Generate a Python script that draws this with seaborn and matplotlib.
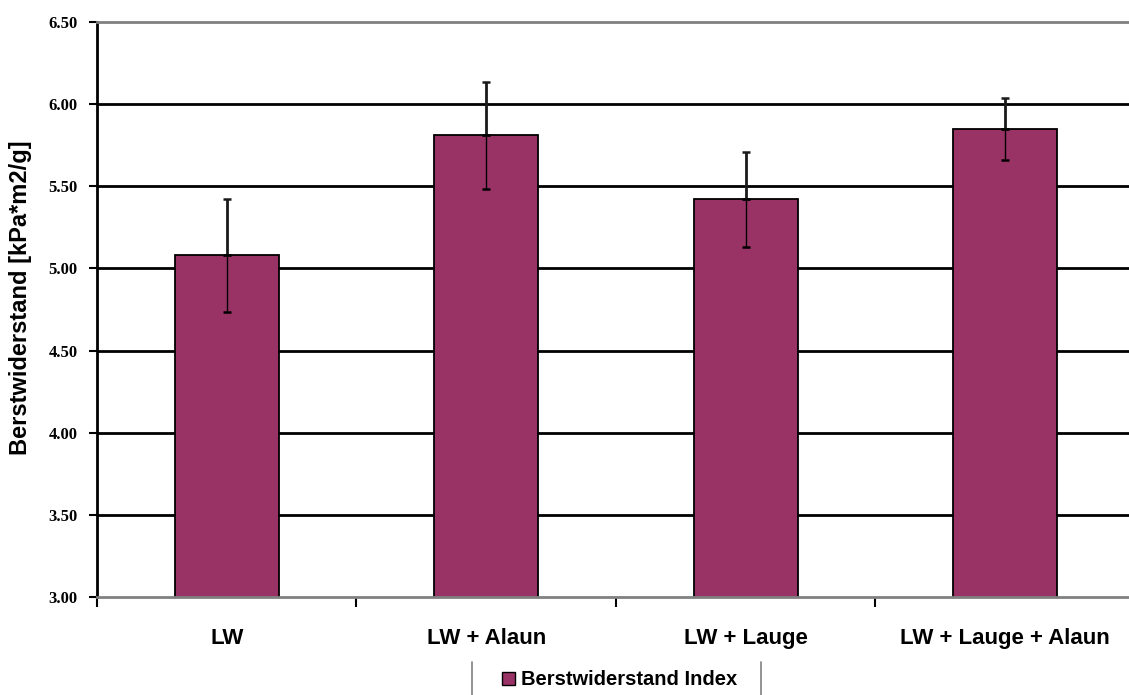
import matplotlib
matplotlib.use("Agg")
import matplotlib.pyplot as plt
from matplotlib.lines import Line2D
import seaborn as sns
import pandas as pd

# Burst index per treatment, with standard deviations
categories = ["LW", "LW + Alaun", "LW + Lauge", "LW + Lauge + Alaun"]
burst_index = [5.08, 5.81, 5.42, 5.85]
burst_sd = [0.345, 0.325, 0.29, 0.19]
y_ticks = [3.00, 3.50, 4.00, 4.50, 5.00, 5.50, 6.00, 6.50]

series_label = "Berstwiderstand Index"
y_label = "Berstwiderstand [kPa*m2/g]"
bar_color = "#993366"

df = pd.DataFrame({"Behandlung": categories, "Wert": burst_index})

sns.set_theme(style="white")
plt.rcParams["font.family"] = ["Liberation Sans", "DejaVu Sans"]
plt.rcParams["text.color"] = "black"
plt.rcParams["axes.labelcolor"] = "black"
plt.rcParams["xtick.color"] = "black"
plt.rcParams["ytick.color"] = "black"

fig = plt.figure(figsize=(11.29, 6.95), dpi=100)
ax = fig.add_axes([0.0859, 0.141, 0.9194, 0.8273])

ax.set_axisbelow(True)
for t in y_ticks[1:-1]:
    ax.axhline(t, color="black", lw=2.0, zorder=0)

sns.barplot(data=df, x="Behandlung", y="Wert", color=bar_color, saturation=1,
            width=0.4, edgecolor="black", linewidth=1.3, errorbar=None,
            label=series_label, ax=ax, zorder=2)

xs = list(range(len(categories)))
# upper and lower halves of the error bars are drawn separately
ax.errorbar(xs, burst_index, yerr=[[0] * len(xs), burst_sd], fmt="none",
            ecolor="#1a1a1a", elinewidth=2.0, capsize=3, capthick=1.8, zorder=3)
ax.errorbar(xs, burst_index, yerr=[burst_sd, [0] * len(xs)], fmt="none",
            ecolor="black", elinewidth=1.0, capsize=3, capthick=1.8, zorder=3)

ax.set_ylim(3.0, 6.5)
ax.set_xlim(-0.5, len(categories) - 0.5)
ax.set_yticks(y_ticks)
ax.set_yticklabels([f"{v:.2f}" for v in y_ticks], family="Liberation Serif",
                   fontweight="bold", fontsize=12)
ax.tick_params(axis="y", direction="out", length=6, width=1.5, color="black",
               pad=8, left=True)

# category boundaries as x tick marks, labels at the centres
ax.set_xticks([i + 0.5 for i in range(len(categories) - 1)] + [-0.5], minor=False)
ax.set_xticklabels([""] * len(categories))
ax.tick_params(axis="x", direction="out", length=7, width=1.5, color="black",
               bottom=True)
ax.set_xticks(xs, minor=True)
ax.set_xticklabels(categories, minor=True, fontweight="bold", fontsize=16)
ax.tick_params(axis="x", which="minor", length=0, pad=22)

ax.set_xlabel("")
ax.set_ylabel(y_label, fontweight="bold", fontsize=17)
ax.yaxis.set_label_coords(-0.0626, 0.521)

for side in ["top", "bottom", "right"]:
    ax.spines[side].set_color("#808080")
    ax.spines[side].set_linewidth(2.0)
ax.spines["left"].set_color("black")
ax.spines["left"].set_linewidth(2.0)

leg = ax.legend(loc="center", bbox_to_anchor=(0.549, 0.0216),
                bbox_transform=fig.transFigure, frameon=False,
                prop={"weight": "bold", "size": 14.5},
                handlelength=0.65, handleheight=0.65, handletextpad=0.3)
for h in leg.legend_handles:
    h.set_edgecolor("black")
    h.set_linewidth(1.0)

# side rules of the legend box
for xf in (472 / 1129, 761 / 1129):
    fig.add_artist(Line2D([xf, xf], [0, 1 - 662 / 695], transform=fig.transFigure,
                          color="#808080", lw=1.2))

fig.savefig("out.png", dpi=100)
